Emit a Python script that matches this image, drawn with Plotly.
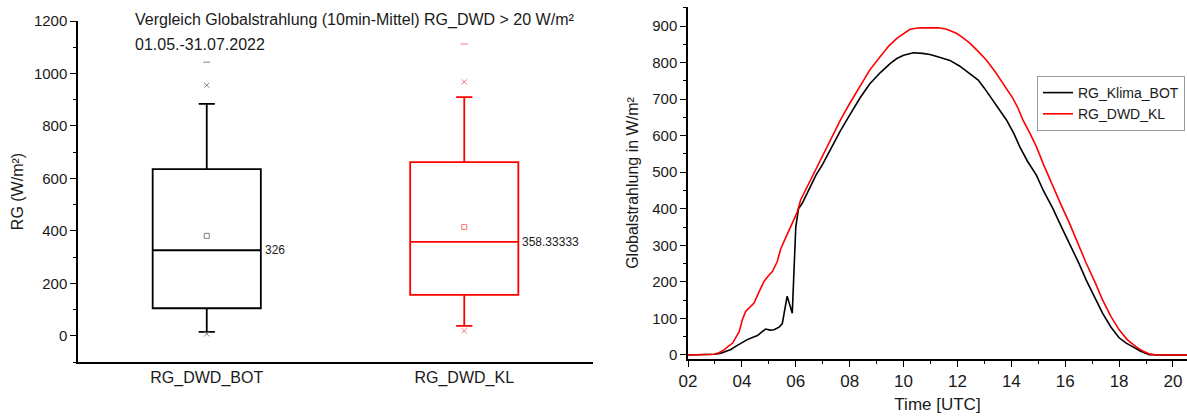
import plotly.graph_objects as go

W, H = 1187, 418

# ---------------- Left: box plot data ----------------
box_names = ["RG_DWD_BOT", "RG_DWD_KL"]
box_colors = ["#000000", "#ff0000"]
marker_colors = ["#808080", "#ff7070"]
q1 = [105, 156]
median = [326, 358.33333]
q3 = [635, 662]
lower_whisker = [15, 38]
upper_whisker = [884, 910]
mean_vals = [381, 415]
p99 = [955, 968]
p01 = [7, 19]
max_vals = [1043, 1112]
median_labels = ["326", "358.33333"]

# ---------------- Right: diurnal course ----------------
t_bot = [2.0, 2.5, 2.85, 3.0, 3.22, 3.4, 3.59, 3.8, 3.96, 4.2, 4.39, 4.58, 4.72, 4.88,
         5.05, 5.19, 5.38, 5.5, 5.68, 5.87, 6.0, 6.1, 6.24, 6.5, 6.75, 7.0, 7.3, 7.66,
         8.0, 8.4, 8.75, 9.13, 9.5, 9.75, 10.0, 10.37, 10.7, 10.98, 11.3, 11.72, 12.09,
         12.45, 12.77, 13.0, 13.32, 13.6, 13.82, 14.1, 14.31, 14.6, 14.93, 15.2, 15.54,
         15.85, 16.16, 16.5, 16.78, 17.1, 17.39, 17.7, 18.0, 18.25, 18.5, 18.8, 19.12,
         19.5, 20.52]
rg_klima_bot = [0, 0, 0, 2, 5, 9, 15, 25, 32, 42, 48, 53, 62, 71,
                68, 69, 76, 86, 161, 114, 350, 400, 415, 455, 492, 522, 564, 614,
                656, 705, 742, 772, 797, 811, 820, 827, 825, 822, 815, 806, 790,
                770, 752, 730, 697, 665, 643, 605, 570, 530, 492, 448, 401,
                352, 305, 252, 205, 158, 114, 76, 47, 33, 23, 10, 1,
                0, 0]

t_kl = [2.0, 2.6, 2.97, 3.15, 3.34, 3.5, 3.65, 3.9, 4.02, 4.14, 4.3, 4.45, 4.62, 4.82,
        5.0, 5.13, 5.31, 5.44, 5.56, 5.8, 6.05, 6.18, 6.5, 6.92, 7.3, 7.66, 8.0, 8.4,
        8.75, 9.13, 9.45, 9.75, 10.0, 10.24, 10.6, 10.98, 11.3, 11.6, 11.96, 12.2, 12.46,
        12.75, 13.07, 13.4, 13.69, 14.06, 14.25, 14.43, 14.7, 14.93, 15.2, 15.54, 15.85,
        16.16, 16.5, 16.78, 17.1, 17.39, 17.7, 18.01, 18.3, 18.62, 18.9, 19.12, 19.4, 20.52]
rg_dwd_kl = [0, 0, 2, 6, 14, 24, 32, 64, 97, 119, 130, 142, 170, 201,
             218, 228, 255, 290, 310, 350, 390, 424, 472, 533, 590, 643, 688, 738,
             780, 816, 845, 866, 880, 891, 895, 896, 895, 891, 880, 868, 853,
             832, 807, 775, 743, 702, 675, 643, 605, 570, 520, 460, 410,
             360, 300, 251, 200, 150, 105, 68, 42, 23, 10, 3, 0, 0]

hour_ticks = [2, 4, 6, 8, 10, 12, 14, 16, 18, 20]
hour_labels = ["02", "04", "06", "08", "10", "12", "14", "16", "18", "20"]

FONT = "Liberation Sans, Arial, sans-serif"
TXT = "#1a1a1a"

fig = go.Figure()

for i, name in enumerate(box_names):
    fig.add_trace(go.Box(
        x=[name], q1=[q1[i]], median=[median[i]], q3=[q3[i]],
        lowerfence=[lower_whisker[i]], upperfence=[upper_whisker[i]],
        width=0.42, whiskerwidth=0.15,
        line=dict(color=box_colors[i], width=1.8),
        fillcolor="rgba(255,255,255,0)",
        boxpoints=False, showlegend=False, hoverinfo="skip",
        xaxis="x", yaxis="y"))
    fig.add_trace(go.Scatter(
        x=[name], y=[mean_vals[i]], mode="markers",
        marker=dict(symbol="square-open", size=5, color=marker_colors[i], line=dict(width=1)),
        showlegend=False, xaxis="x", yaxis="y"))
    fig.add_trace(go.Scatter(
        x=[name, name], y=[p99[i], p01[i]], mode="markers",
        marker=dict(symbol="x-thin-open", size=5, color=marker_colors[i], line=dict(width=1, color=marker_colors[i])),
        showlegend=False, xaxis="x", yaxis="y"))
    fig.add_trace(go.Scatter(
        x=[name], y=[max_vals[i]], mode="markers",
        marker=dict(symbol="line-ew-open", size=5, color=marker_colors[i], line=dict(width=1, color=marker_colors[i])),
        showlegend=False, xaxis="x", yaxis="y"))
    fig.add_annotation(x=name, y=median[i], xref="x", yref="y", text=median_labels[i],
                       showarrow=False, xanchor="left", yanchor="middle", xshift=56,
                       font=dict(family=FONT, size=12, color=TXT))

fig.add_trace(go.Scatter(x=t_bot, y=rg_klima_bot, mode="lines", name="RG_Klima_BOT",
                         line=dict(color="#000000", width=1.6), xaxis="x2", yaxis="y2"))
fig.add_trace(go.Scatter(x=t_kl, y=rg_dwd_kl, mode="lines", name="RG_DWD_KL",
                         line=dict(color="#ff0000", width=1.6), xaxis="x2", yaxis="y2"))

fig.add_annotation(x=133 / W, y=1 - 20 / H, xref="paper", yref="paper",
                   text="Vergleich Globalstrahlung (10min-Mittel) RG_DWD > 20 W/m²",
                   showarrow=False, xanchor="left", yanchor="middle",
                   font=dict(family=FONT, size=16, color=TXT))
fig.add_annotation(x=133 / W, y=1 - 45 / H, xref="paper", yref="paper",
                   text="01.05.-31.07.2022",
                   showarrow=False, xanchor="left", yanchor="middle",
                   font=dict(family=FONT, size=16, color=TXT))

axis_common = dict(showline=True, linecolor="#000000", linewidth=1.5, showgrid=False,
                   zeroline=False, ticks="outside", tickcolor="#000000", tickwidth=1.2,
                   mirror=False, automargin=False)

fig.update_layout(
    width=W, height=H,
    margin=dict(l=0, r=0, t=0, b=0, autoexpand=False),
    paper_bgcolor="white", plot_bgcolor="white",
    font=dict(family=FONT, color=TXT),
    xaxis=dict(domain=[78 / W, 593 / W], type="category", range=[-0.5, 1.5],
               showline=True, linecolor="#000000", linewidth=1.5, showgrid=False,
               zeroline=False, ticks="", automargin=False,
               tickfont=dict(size=16, color=TXT)),
    yaxis=dict(domain=[1 - 362 / H, 1 - 21 / H], range=[-100, 1200], anchor="x",
               tickvals=[0, 200, 400, 600, 800, 1000, 1200], ticklen=6,
               minor=dict(tick0=0, dtick=100, ticks="outside", ticklen=3, tickcolor="#000000"),
               title=dict(text="RG (W/m²)", font=dict(size=16, color=TXT), standoff=6),
               tickfont=dict(size=15, color=TXT), **axis_common),
    xaxis2=dict(domain=[688 / W, 1.0], range=[2, 20.52], anchor="y2",
                tickmode="array", tickvals=hour_ticks, ticktext=hour_labels, ticklen=6,
                minor=dict(tick0=1, dtick=2, ticks="outside", ticklen=3, tickcolor="#000000"),
                title=dict(text="Time [UTC]", font=dict(size=17, color=TXT), standoff=8),
                tickfont=dict(size=17, color=TXT), **axis_common),
    yaxis2=dict(domain=[1 - 359 / H, 1 - 7 / H], range=[-11, 952], anchor="x2",
                tick0=0, dtick=100, ticklen=6,
                minor=dict(tick0=0, dtick=50, ticks="outside", ticklen=3, tickcolor="#000000"),
                title=dict(text="Globalstrahlung in W/m²", font=dict(size=16, color=TXT), standoff=10),
                tickfont=dict(size=15, color=TXT), **axis_common),
    legend=dict(x=1037 / W, y=1 - 76 / H, xanchor="left", yanchor="top",
                bgcolor="white", bordercolor="#999999", borderwidth=1,
                font=dict(family=FONT, size=14, color=TXT), tracegroupgap=0,
                itemwidth=30),
    showlegend=True,
)

fig.write_html("out.html", config={"displayModeBar": False},
               post_script="document.body.style.margin='0';document.body.style.overflow='hidden';")
